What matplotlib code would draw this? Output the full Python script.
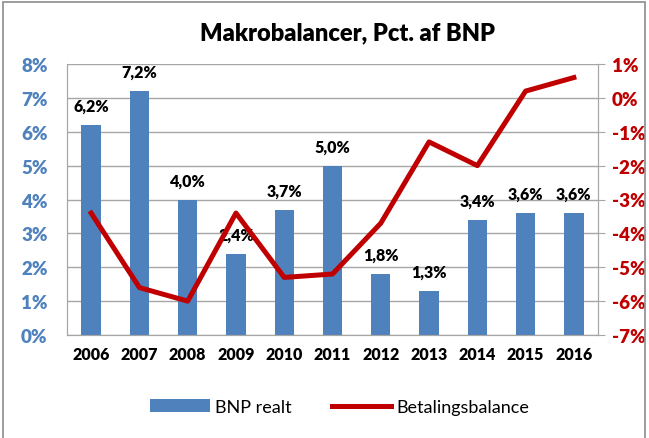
import matplotlib
matplotlib.use("Agg")
import matplotlib.pyplot as plt
from matplotlib.patches import Rectangle
from matplotlib.ticker import FuncFormatter

years = ["2006", "2007", "2008", "2009", "2010", "2011", "2012", "2013", "2014", "2015", "2016"]
bnp_realt = [6.2, 7.2, 4.0, 2.4, 3.7, 5.0, 1.8, 1.3, 3.4, 3.6, 3.6]
betalingsbalance = [-3.4, -5.6, -6.0, -3.4, -5.3, -5.2, -3.7, -1.3, -2.0, 0.2, 0.6]

plt.rcParams['font.family'] = ['Lato', 'DejaVu Sans']

BLUE = "#4F81BD"
RED = "#C00000"
GRID = "#A6A6A6"

fig = plt.figure(figsize=(6.49, 4.39), dpi=100)
fig.patches.append(Rectangle((3/649, -0.1), 642/649, 1 - 3/439 + 0.1, transform=fig.transFigure,
                             fill=False, edgecolor="#8C8C8C", linewidth=1.2))

ax = fig.add_axes([67/649, 1 - 336/439, (598-67)/649, (336-65)/439])
x = list(range(len(years)))
ax.bar(x, bnp_realt, width=0.4, color=BLUE, zorder=2, label="BNP realt")
ax.set_xlim(-0.5, len(years) - 0.5)
ax.set_ylim(0, 8)
ax.set_yticks(range(0, 9))
ax.yaxis.set_major_formatter(FuncFormatter(lambda v, p: f"{int(v)}%"))
ax.set_xticks(x)
ax.set_xticklabels(years, fontweight="heavy", fontsize=11.5)
ax.tick_params(axis="y", colors=BLUE, labelsize=13.5, length=0, pad=14)
for lab in ax.get_yticklabels():
    lab.set_fontweight("heavy")
ax.tick_params(axis="x", length=0, pad=8)
ax.grid(axis="y", color=GRID, linewidth=1, zorder=0)
ax.set_axisbelow(True)
for s in ["left", "bottom", "right", "top"]:
    ax.spines[s].set_color(GRID)
ax.spines["top"].set_visible(False)

for xi, v in zip(x, bnp_realt):
    ax.annotate(f"{v:.1f}%".replace(".", ","), (xi, v), xytext=(0, 8), textcoords="offset points",
                ha="center", va="bottom", fontsize=11.5, fontweight="heavy", zorder=5)

ax2 = ax.twinx()
ax2.plot(x, betalingsbalance, color=RED, linewidth=3.6, zorder=3, label="Betalingsbalance")
ax2.set_ylim(-7, 1)
ax2.set_yticks(range(-7, 2))
ax2.yaxis.set_major_formatter(FuncFormatter(lambda v, p: f"{int(v)}%"))
ax2.tick_params(axis="y", colors=RED, labelsize=13.5, length=5, pad=5)
for lab in ax2.get_yticklabels():
    lab.set_fontweight("heavy")
ax2.tick_params(axis="y", color=GRID)
for s in ["left", "bottom", "right", "top"]:
    ax2.spines[s].set_color(GRID)
ax2.spines["top"].set_visible(False)

fig.text(347/649, 1 - 33/439, "Makrobalancer, Pct. af BNP", ha="center", va="center",
         fontsize=17, fontweight="heavy")

h1, l1 = ax.get_legend_handles_labels()
h2, l2 = ax2.get_legend_handles_labels()
fig.legend(h1 + h2, l1 + l2, loc="center", bbox_to_anchor=(340/649, 1 - 408/439), ncol=2,
           frameon=False, fontsize=13, handlelength=3.3, columnspacing=2.2, handletextpad=0.3)

fig.savefig("out.png", dpi=100)
